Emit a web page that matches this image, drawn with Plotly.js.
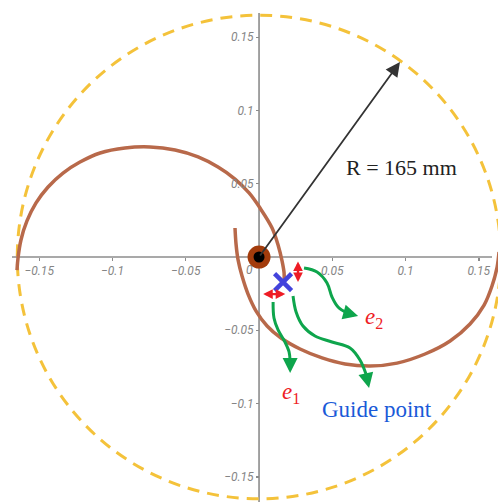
<!DOCTYPE html>
<html>
<head>
<meta charset="utf-8">
<script src="https://cdn.plot.ly/plotly-3.0.1.min.js"></script>
<style>html,body{margin:0;padding:0;background:#fff;}#chart{width:498px;height:502px;}</style>
</head>
<body>
<div id="chart"></div>
<script>
// ---- data (metres) ----
var tickVals = [-0.15, -0.1, -0.05, 0.05, 0.1, 0.15];
var tickText = ['\u22120.15', '\u22120.1', '\u22120.05', '0.05', '0.1', '0.15'];

// spiral arm from the far left, over the top, into the guide point
var armAx = [-0.1652, -0.1645, -0.1625, -0.1584, -0.1522, -0.1440, -0.1338, -0.1222, -0.1085, -0.0915, -0.0744, -0.0573, -0.0416, -0.0280, -0.0164, -0.0068, 0.0007, 0.0089, 0.0130, 0.0157, 0.0171, 0.0171];
var armAy = [-0.0089, -0.0007, 0.0116, 0.0246, 0.0369, 0.0478, 0.0573, 0.0648, 0.0710, 0.0744, 0.0751, 0.0730, 0.0683, 0.0614, 0.0532, 0.0437, 0.0334, 0.0198, 0.0082, -0.0027, -0.0109, -0.0164];
// spiral arm from the inner end, under the bottom, to the far right
var armBx = [-0.0164, -0.0157, -0.0143, -0.0116, -0.0075, -0.0020, 0.0055, 0.0150, 0.0280, 0.0430, 0.0587, 0.0758, 0.0942, 0.1133, 0.1304, 0.1440, 0.1536, 0.1590, 0.1625, 0.1638];
var armBy = [0.0198, 0.0089, -0.0020, -0.0130, -0.0253, -0.0369, -0.0471, -0.0553, -0.0628, -0.0689, -0.0730, -0.0744, -0.0724, -0.0662, -0.0573, -0.0457, -0.0328, -0.0198, -0.0068, 0.0034];

var radius = 0.165;
var centerX = [0], centerY = [0];
var guideX = [0.0164], guideY = [-0.0171];
var radiusTip = [0.0962, 0.1331];

// error arrows
var e1Arrow = {x0: 0.0018, x1: 0.0179, y: -0.0253};
var e2Arrow = {x: 0.0266, y0: -0.0030, y1: -0.0181};

// green pointer curves
var g1x = [0.0096, 0.0102, 0.0130, 0.0177, 0.0205, 0.0212, 0.0212];
var g1y = [-0.0307, -0.0416, -0.0498, -0.0580, -0.0648, -0.0710, -0.0792];
var g2x = [0.0307, 0.0396, 0.0464, 0.0498, 0.0539, 0.0601, 0.0676];
var g2y = [-0.0075, -0.0102, -0.0177, -0.0273, -0.0341, -0.0382, -0.0403];
var g3x = [0.0232, 0.0253, 0.0300, 0.0382, 0.0498, 0.0621, 0.0689, 0.0730, 0.0751];
var g3y = [-0.0266, -0.0375, -0.0471, -0.0539, -0.0580, -0.0621, -0.0703, -0.0799, -0.0894];

// label anchors
var labelR = [0.0969, 0.0608];
var labelGuide = [0.0805, -0.1044];
var labelE1 = [0.0215, -0.0928];
var labelE2 = [0.0785, -0.0416];

// ---- figure ----
var xRange = [-0.1768, 0.1631];
var yRange = [-0.1672, 0.1754];

var brown = '#b8694a';
var green = '#0ea54c';
var red = '#ee1c25';

var traces = [
  {x: armAx, y: armAy, mode: 'lines', line: {color: brown, width: 3.5, shape: 'spline'}, hoverinfo: 'skip'},
  {x: armBx, y: armBy, mode: 'lines', line: {color: brown, width: 3.5, shape: 'spline'}, hoverinfo: 'skip'},
  {x: g1x.slice(0, -1), y: g1y.slice(0, -1), mode: 'lines', line: {color: green, width: 3, shape: 'spline'}, hoverinfo: 'skip'},
  {x: g2x.slice(0, -1), y: g2y.slice(0, -1), mode: 'lines', line: {color: green, width: 3, shape: 'spline'}, hoverinfo: 'skip'},
  {x: g3x.slice(0, -1), y: g3y.slice(0, -1), mode: 'lines', line: {color: green, width: 3, shape: 'spline'}, hoverinfo: 'skip'},
  {x: centerX, y: centerY, mode: 'markers', marker: {size: 23, color: '#a33c0c'}, hoverinfo: 'skip'},
  {x: centerX, y: centerY, mode: 'markers', marker: {size: 11, color: '#000'}, hoverinfo: 'skip'},
  {x: guideX, y: guideY, mode: 'markers', marker: {symbol: 'x-thin', size: 17, line: {color: '#4343dc', width: 4.5}}, hoverinfo: 'skip'}
];

function headAnn(xs, ys) {
  var n = xs.length;
  return {x: xs[n - 1], y: ys[n - 1], ax: xs[n - 2], ay: ys[n - 2], xref: 'x', yref: 'y', axref: 'x', ayref: 'y',
    text: '', showarrow: true, arrowhead: 2, arrowsize: 1, arrowwidth: 3, arrowcolor: green, standoff: 0};
}

var annotations = [
  {x: radiusTip[0], y: radiusTip[1], ax: 0, ay: 0, xref: 'x', yref: 'y', axref: 'x', ayref: 'y', text: '',
   showarrow: true, arrowhead: 2, arrowsize: 1.6, arrowwidth: 1.8, arrowcolor: '#333333', standoff: 0},
  {x: e1Arrow.x1, y: e1Arrow.y, ax: e1Arrow.x0, ay: e1Arrow.y, xref: 'x', yref: 'y', axref: 'x', ayref: 'y', text: '',
   showarrow: true, arrowhead: 2, arrowside: 'end+start', arrowsize: 0.8, arrowwidth: 2.4, arrowcolor: red, standoff: 0, startstandoff: 0},
  {x: e2Arrow.x, y: e2Arrow.y0, ax: e2Arrow.x, ay: e2Arrow.y1, xref: 'x', yref: 'y', axref: 'x', ayref: 'y', text: '',
   showarrow: true, arrowhead: 2, arrowside: 'end+start', arrowsize: 0.8, arrowwidth: 2.4, arrowcolor: red, standoff: 0, startstandoff: 0},
  headAnn(g1x, g1y), headAnn(g2x, g2y), headAnn(g3x, g3y),
  {x: labelR[0], y: labelR[1], xref: 'x', yref: 'y', text: 'R = 165 mm', showarrow: false,
   font: {family: 'Liberation Serif', size: 22, color: '#222222'}},
  {x: labelGuide[0], y: labelGuide[1], xref: 'x', yref: 'y', text: 'Guide point', showarrow: false,
   font: {family: 'Liberation Serif', size: 23, color: '#1a5ad8'}},
  {x: labelE1[0], y: labelE1[1], xref: 'x', yref: 'y', text: '<i>e</i><sub>1</sub>', showarrow: false,
   font: {family: 'Liberation Serif', size: 23, color: red}},
  {x: labelE2[0], y: labelE2[1], xref: 'x', yref: 'y', text: '<i>e</i><sub>2</sub>', showarrow: false,
   font: {family: 'Liberation Serif', size: 23, color: red}},
  {x: -0.0068, y: -0.0089, xref: 'x', yref: 'y', text: '0', showarrow: false,
   font: {family: 'Roboto', size: 12, color: '#858585', style: 'italic'}}
];

var shapes = [
  {type: 'line', xref: 'x', yref: 'y', x0: -0.1686, x1: 0.1590, y0: 0, y1: 0, layer: 'below', line: {color: '#8c8c8c', width: 1.6}},
  {type: 'line', xref: 'x', yref: 'y', x0: 0, x1: 0, y0: yRange[0], y1: 0.1666, layer: 'below', line: {color: '#8c8c8c', width: 1.6}},
  {type: 'circle', xref: 'x', yref: 'y', x0: -radius, x1: radius, y0: -radius, y1: radius, layer: 'below',
   line: {color: '#f4c23a', width: 3, dash: '12px,8px'}}
];

var tickFont = {family: 'Roboto', size: 12, color: '#858585', style: 'italic'};

var layout = {
  width: 498, height: 502,
  margin: {l: 0, r: 0, t: 0, b: 0, pad: 0},
  paper_bgcolor: '#ffffff', plot_bgcolor: '#ffffff',
  showlegend: false,
  xaxis: {range: xRange, anchor: 'free', position: (0 - yRange[0]) / (yRange[1] - yRange[0]),
    showgrid: false, zeroline: false, showline: false,
    tickvals: tickVals, ticktext: tickText, ticks: 'outside', ticklen: 3, tickwidth: 1.4, tickcolor: '#8c8c8c',
    tickfont: tickFont, fixedrange: true},
  yaxis: {range: yRange, anchor: 'free', position: (0 - xRange[0]) / (xRange[1] - xRange[0]),
    showgrid: false, zeroline: false, showline: false,
    tickvals: tickVals, ticktext: tickText, ticks: 'outside', ticklen: 3, tickwidth: 1.4, tickcolor: '#8c8c8c',
    tickfont: tickFont, fixedrange: true},
  shapes: shapes,
  annotations: annotations
};

Plotly.newPlot('chart', traces, layout, {displayModeBar: false, staticPlot: true});
</script>
</body>
</html>
